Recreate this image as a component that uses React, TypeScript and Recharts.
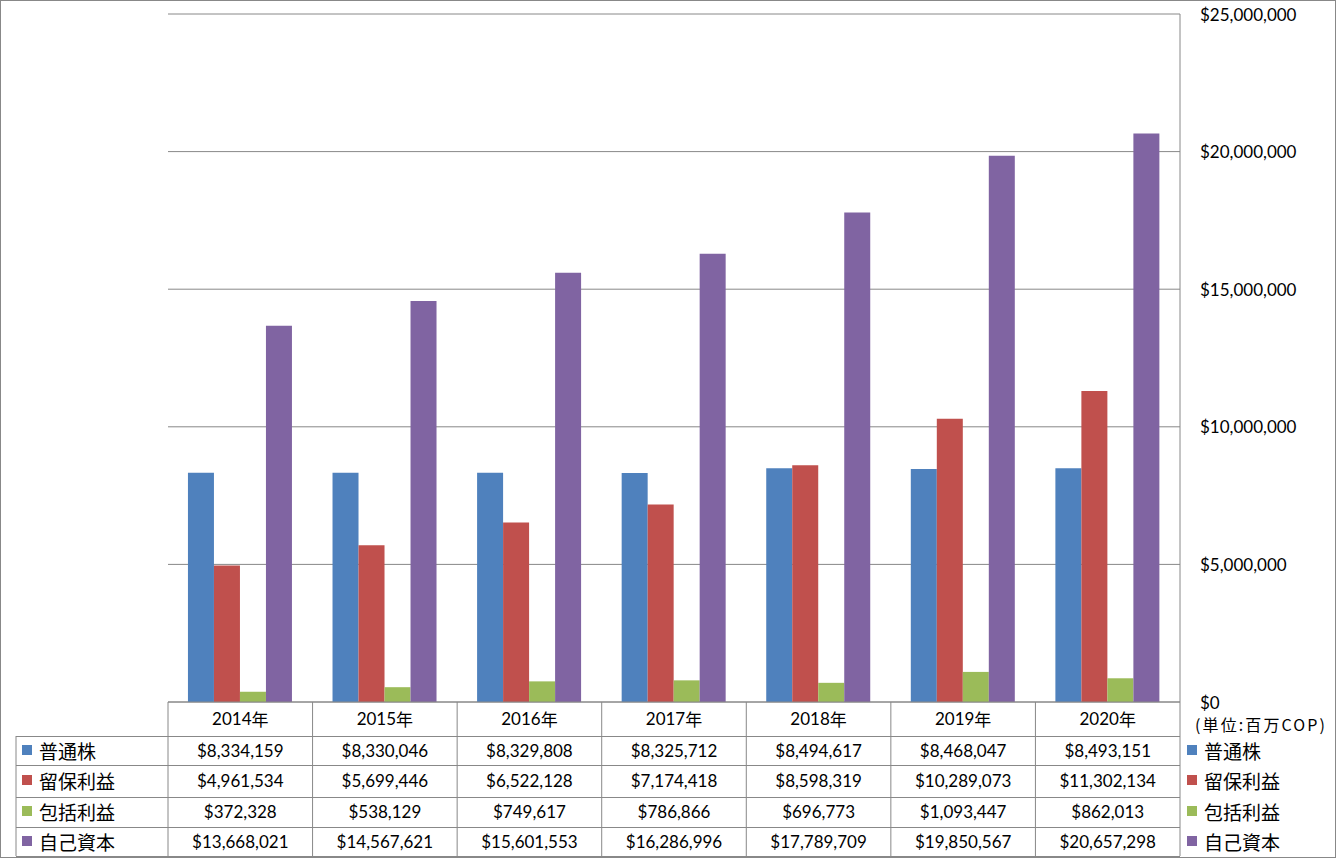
import React from 'react';
import { BarChart, Bar, XAxis, YAxis, CartesianGrid } from 'recharts';

const years = ['2014年', '2015年', '2016年', '2017年', '2018年', '2019年', '2020年'];
const seriesNames = ['普通株', '留保利益', '包括利益', '自己資本'];
const commonStock = [8334159, 8330046, 8329808, 8325712, 8494617, 8468047, 8493151];
const retainedEarnings = [4961534, 5699446, 6522128, 7174418, 8598319, 10289073, 11302134];
const comprehensiveIncome = [372328, 538129, 749617, 786866, 696773, 1093447, 862013];
const totalEquity = [13668021, 14567621, 15601553, 16286996, 17789709, 19850567, 20657298];
const yTicks = [0, 5000000, 10000000, 15000000, 20000000, 25000000];
const unitLabel = '(単位:百万COP)';

const COLORS = ['#4F81BD', '#C0504D', '#9BBB59', '#8064A2'];
const KEYS = ['common', 'retained', 'comprehensive', 'equity'];
const seriesArrays = [commonStock, retainedEarnings, comprehensiveIncome, totalEquity];

const data = years.map((y, i) => ({
  year: y,
  common: commonStock[i],
  retained: retainedEarnings[i],
  comprehensive: comprehensiveIncome[i],
  equity: totalEquity[i],
}));

const W = 1336;
const H = 858;
const PLOT_L = 168;
const PLOT_R = 1180;
const PLOT_T = 14;
const PLOT_B = 702;
const COL_W = (PLOT_R - PLOT_L) / years.length;
const LINE = '#888888';
const NUM_FONT = "Lato, 'Liberation Sans', sans-serif";
const JP_FONT = "'Noto Sans CJK JP', sans-serif";

const ROW_CENTERS = [48, 78, 109, 139];
const ROW_LINES = [34, 63, 95, 125, 154];

const fmt = (v: number) => '$' + v.toLocaleString('en-US');

const XTick = (props: any) => {
  const { x, payload } = props;
  const y = PLOT_B;
  const i = payload.index;
  const label: string = payload.value;
  return (
    <g>
      <line x1={x - COL_W / 2} x2={x - COL_W / 2} y1={y} y2={y + 154} stroke={LINE} />
      <text x={x} y={y + 16} textAnchor="middle" dominantBaseline="central" fill="#000" fontSize={17}>
        <tspan fontFamily={NUM_FONT}>{label.replace('年', '')}</tspan>
        <tspan fontFamily={JP_FONT} fontSize={17}>年</tspan>
      </text>
      {seriesArrays.map((arr, k) => (
        <text
          key={k}
          x={x}
          y={y + ROW_CENTERS[k]}
          textAnchor="middle"
          dominantBaseline="central"
          fill="#000"
          fontSize={17}
          fontFamily={NUM_FONT}
        >
          {fmt(arr[i])}
        </text>
      ))}
    </g>
  );
};

const YTick = (props: any) => {
  const { x, y, payload } = props;
  return (
    <text x={x} y={y} textAnchor="start" dominantBaseline="central" fill="#000" fontSize={17} fontFamily={NUM_FONT}>
      {fmt(payload.value)}
    </text>
  );
};

export default function App() {
  return (
    <div style={{ position: 'absolute', left: 0, top: 0, width: W, height: H, background: '#fff' }}>
      <BarChart
        width={W}
        height={H}
        data={data}
        margin={{ top: PLOT_T, right: 0, bottom: 0, left: PLOT_L }}
        barCategoryGap="13.8%"
        barGap={0}
      >
        <CartesianGrid vertical={false} stroke={LINE} strokeDasharray="" />
        <XAxis
          dataKey="year"
          height={H - PLOT_B}
          tickLine={false}
          axisLine={{ stroke: LINE }}
          tickSize={0}
          tickMargin={0}
          interval={0}
          tick={<XTick />}
        />
        <YAxis
          orientation="right"
          width={W - PLOT_R}
          domain={[0, 25000000]}
          ticks={yTicks}
          tickLine={false}
          tickSize={0}
          tickMargin={20}
          axisLine={{ stroke: LINE }}
          tick={<YTick />}
          interval={0}
        />
        {KEYS.map((k, idx) => (
          <Bar key={k} dataKey={k} name={seriesNames[idx]} fill={COLORS[idx]} isAnimationActive={false} />
        ))}
      </BarChart>
      <svg
        width={W}
        height={H}
        style={{ position: 'absolute', left: 0, top: 0, pointerEvents: 'none' }}
      >
        <rect x={0.5} y={0.5} width={W - 1} height={H - 1} fill="none" stroke={LINE} />
        <line x1={PLOT_R} x2={PLOT_R} y1={PLOT_B} y2={PLOT_B + 154} stroke={LINE} />
        <line x1={16} x2={16} y1={PLOT_B + ROW_LINES[0]} y2={PLOT_B + 154} stroke={LINE} />
        {ROW_LINES.map((d, i) => (
          <line key={i} x1={16} x2={PLOT_R} y1={PLOT_B + d + 0.5} y2={PLOT_B + d + 0.5} stroke={LINE} />
        ))}
        {seriesNames.map((n, k) => (
          <g key={k}>
            <rect x={22} y={PLOT_B + ROW_CENTERS[k] - 5} width={10} height={10} fill={COLORS[k]} />
            <text x={39} y={PLOT_B + ROW_CENTERS[k]} dominantBaseline="central" fontSize={19} fontFamily={JP_FONT} fill="#000">
              {n}
            </text>
            <rect x={1187} y={PLOT_B + ROW_CENTERS[k] - 5} width={10} height={10} fill={COLORS[k]} />
            <text x={1204} y={PLOT_B + ROW_CENTERS[k]} dominantBaseline="central" fontSize={19} fontFamily={JP_FONT} fill="#000">
              {n}
            </text>
          </g>
        ))}
        <text
          x={1195}
          y={PLOT_B + 22}
          dominantBaseline="central"
          fontSize={16}
          fontFamily={JP_FONT}
          fill="#000"
          textLength={130}
          lengthAdjust="spacing"
        >
          {unitLabel}
        </text>
      </svg>
    </div>
  );
}
